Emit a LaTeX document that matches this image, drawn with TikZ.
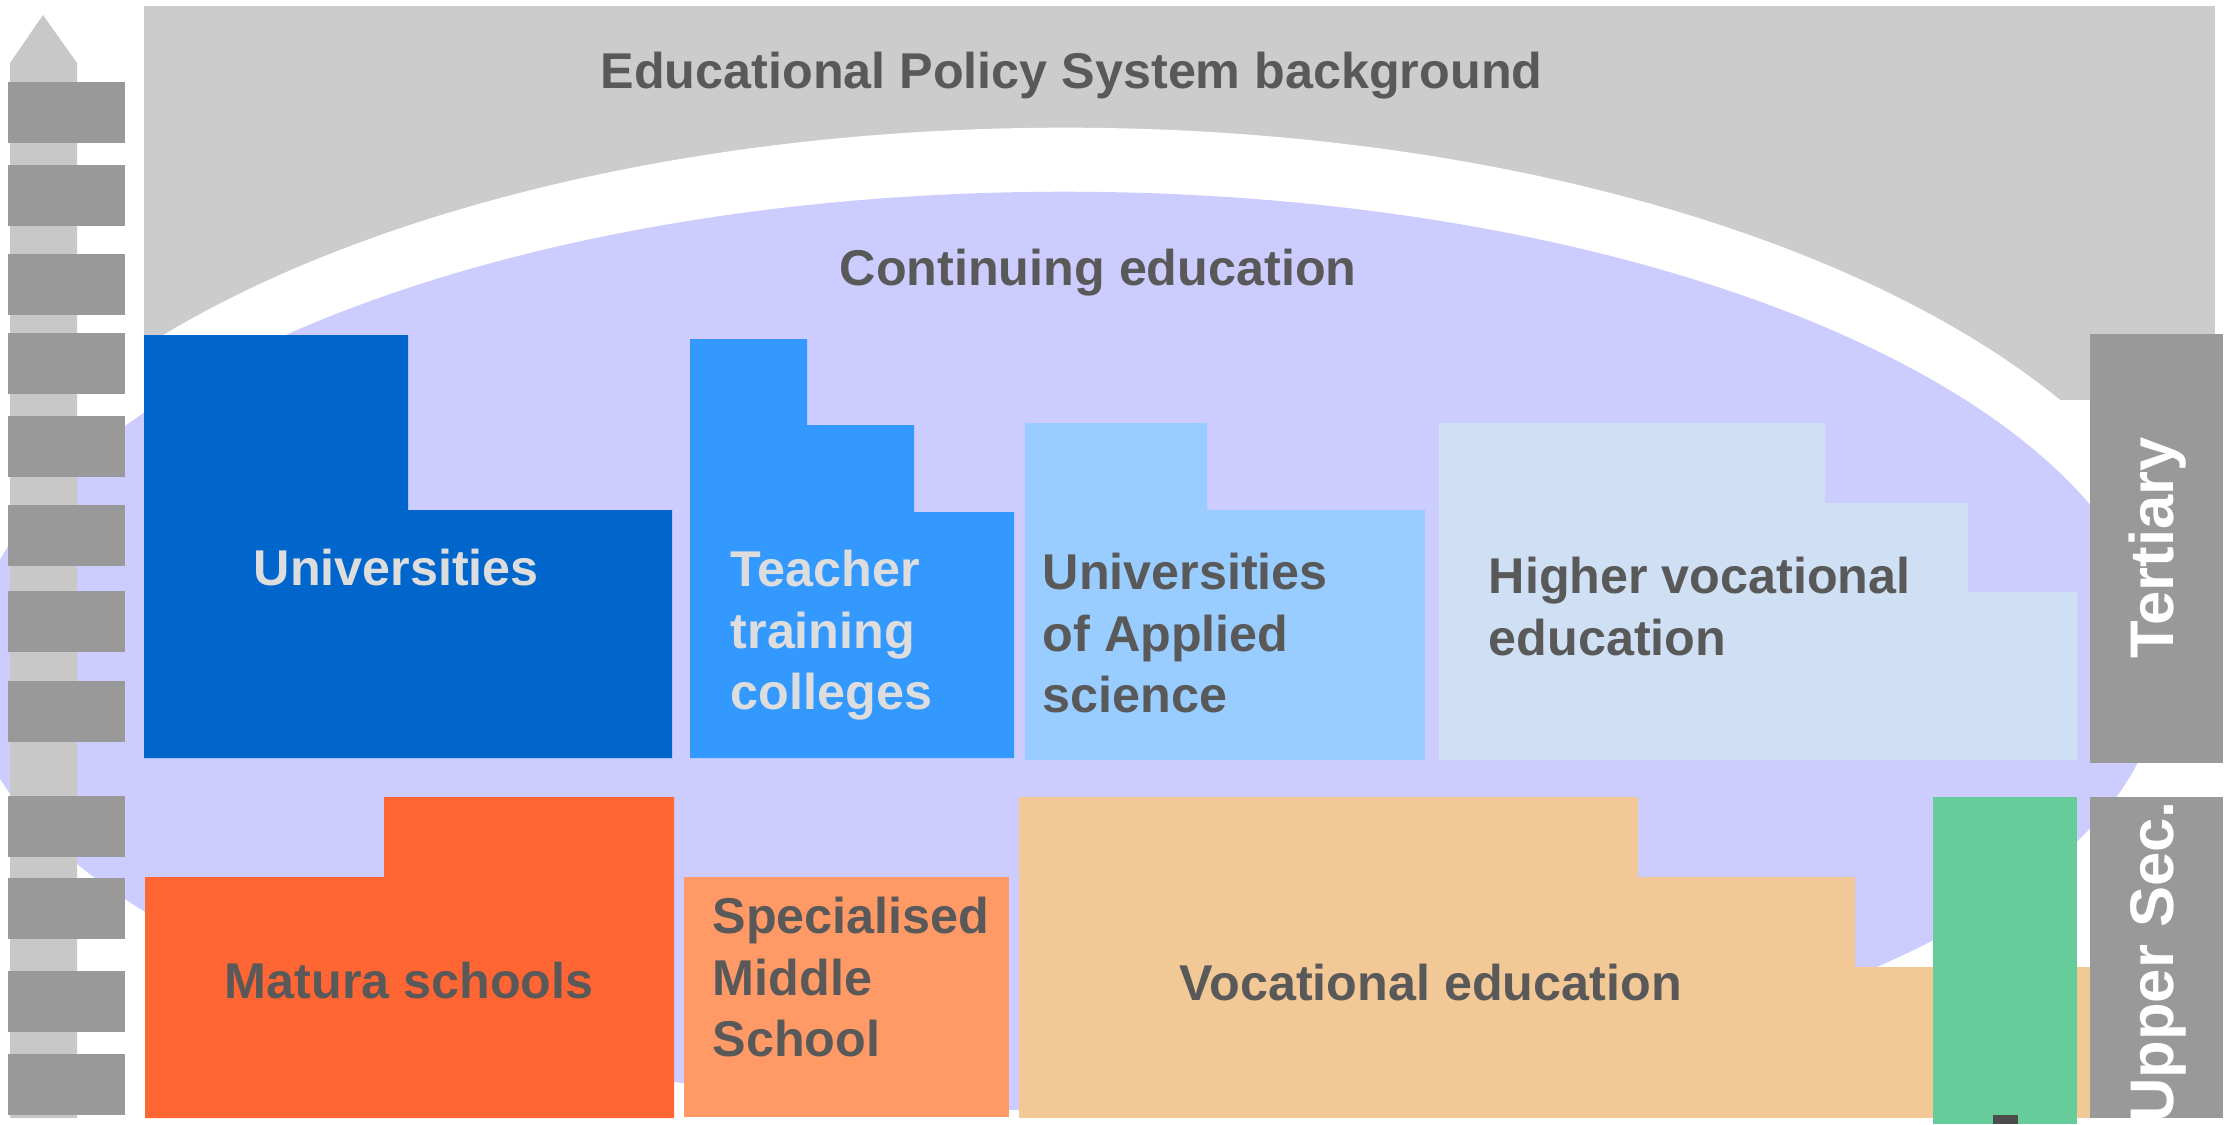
\documentclass[tikz,border=0pt]{standalone}
\usepackage{fontspec}
\setmainfont{Liberation Sans}
\definecolor{bggray}{HTML}{CCCCCC}
\definecolor{lav}{HTML}{CCCCFF}
\definecolor{unidark}{HTML}{0066CC}
\definecolor{teachblue}{HTML}{3399FF}
\definecolor{uasblue}{HTML}{99CCFF}
\definecolor{hveblue}{HTML}{CFE0F4}
\definecolor{maturaor}{HTML}{FF6633}
\definecolor{specor}{HTML}{FF9966}
\definecolor{vocor}{HTML}{F2C896}
\definecolor{pgreen}{HTML}{66CC99}
\definecolor{sidegray}{HTML}{999999}
\definecolor{shaftgray}{HTML}{C8C8C8}
\definecolor{txtgray}{HTML}{595959}
\definecolor{txtlight}{HTML}{DDDDDD}
\begin{document}
\begin{tikzpicture}[x=0.01cm,y=-0.01cm,
  lbl/.style={font=\fontsize{14.3}{17.6}\selectfont\bfseries, text=txtgray, inner sep=0pt, align=left},
  lightlbl/.style={lbl, text=txtlight},
  sidelbl/.style={font=\fontsize{17.5}{20}\selectfont\bfseries, text=white, inner sep=0pt, rotate=90},
  bar/.style={fill=sidegray},
  sidebox/.style={fill=sidegray}]
\useasboundingbox (0,0) rectangle (2234,1124);
\fill[white] (0,0) rectangle (2234,1124);
% background
\fill[bggray] (144,6) rectangle (2215,400);
\fill[white] (1065,675) ellipse [x radius=11.5cm, y radius=5.47cm];
\fill[lav] (2160,675) arc [start angle=0, end angle=180, x radius=10.95cm, y radius=4.83cm]
                      arc [start angle=180, end angle=360, x radius=10.95cm, y radius=4.35cm] -- cycle;
% tertiary blocks
\fill[unidark] (144,335) -- (408,335) -- (408,510) -- (672,510) -- (672,758) -- (144,758) -- cycle;
\fill[teachblue] (690,339) -- (807,339) -- (807,425) -- (914,425) -- (914,512) -- (1014,512) -- (1014,758) -- (690,758) -- cycle;
\fill[uasblue] (1025,423) -- (1207,423) -- (1207,510) -- (1425,510) -- (1425,760) -- (1025,760) -- cycle;
\fill[hveblue] (1439,423) -- (1825,423) -- (1825,503) -- (1968,503) -- (1968,592) -- (2077,592) -- (2077,760) -- (1439,760) -- cycle;
% upper secondary blocks
\fill[maturaor] (145,877) -- (384,877) -- (384,797) -- (674,797) -- (674,1118) -- (145,1118) -- cycle;
\fill[specor] (684,877) rectangle (1009,1117);
\fill[vocor] (1019,797) -- (1638,797) -- (1638,877) -- (1855,877) -- (1855,967) -- (2090,967) -- (2090,1118) -- (1019,1118) -- cycle;
\fill[pgreen] (1933,797) rectangle (2077,1124);
\fill[black!70] (1993,1115) rectangle (2018,1124);
% side boxes
\fill[sidebox] (2090,334) rectangle (2223,763);
\fill[sidebox] (2090,797) rectangle (2223,1118);
\node[sidelbl] (tert) at (2158,548) {Tertiary};
\node[sidelbl] (upsec) at (2158,962) {Upper Sec.};
% ladder
\fill[shaftgray] (43,15) -- (77,63) -- (77,1118) -- (10,1118) -- (10,63) -- cycle;
\foreach \a/\b in {82/143,165/226,254/315,333/394,416/477,505/566,591/652,681/742,796/857,878/939,971/1032,1054/1115}
  \fill[bar] (8,\a) rectangle (125,\b);
% labels
\node[lbl, anchor=base west] (title) at (600,88) {Educational Policy System background};
\node[lbl, anchor=base west] (cont) at (839,285) {Continuing education};
\node[lightlbl, anchor=base west] (uni) at (253,585) {Universities};
\node[lightlbl, anchor=north west] (teach) at (730,549) {Teacher\\training\\colleges};
\node[lbl, anchor=north west] (uas) at (1042,552) {Universities\\of Applied\\science};
\node[lbl, anchor=north west] (hve) at (1488,556) {Higher vocational\\education};
\node[lbl, anchor=base west] (mat) at (224,998) {Matura schools};
\node[lbl, anchor=north west] (spec) at (712,896) {Specialised\\Middle\\School};
\node[lbl, anchor=base west] (voc) at (1179,1000) {Vocational education};
\end{tikzpicture}
\end{document}
